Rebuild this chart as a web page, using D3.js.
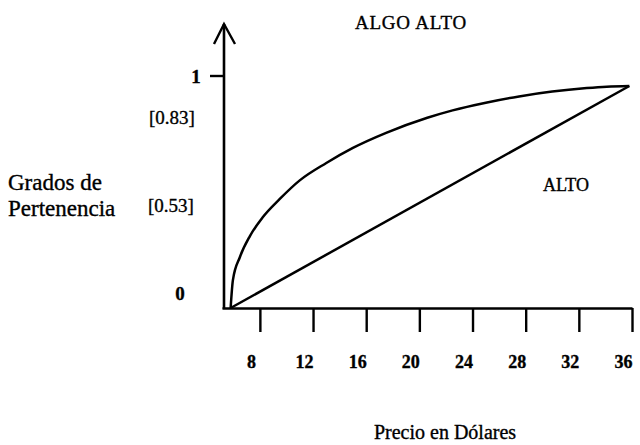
<!DOCTYPE html>
<html>
<head>
<meta charset="utf-8">
<script src="https://cdn.jsdelivr.net/npm/d3@7"></script>
<style>
  html, body { margin: 0; padding: 0; background: #fff; }
  svg text { font-family: "Liberation Serif", "Times New Roman", "DejaVu Serif", serif; }
</style>
</head>
<body>
<svg id="chart" width="640" height="445"></svg>
<script>
// ---- data ----
const xTicks = [8, 12, 16, 20, 24, 28, 32, 36];
const yTickLabels = ["1", "[0.83]", "[0.53]", "0"];
const yLabelAt = [1, 0.823, 0.444, 0.065];

const priceAlgoAlto = [5.8, 5.97, 6.5, 7.25, 8.2, 9.5, 11, 13, 15, 17.5, 20.6, 22.5, 25, 27.5, 30, 32.6, 34.1, 35.8];
const algoAlto     = [0, 0.12, 0.22, 0.31, 0.39, 0.47, 0.55, 0.625, 0.69, 0.755, 0.82, 0.852, 0.885, 0.912, 0.933, 0.948, 0.954, 0.957];

const priceAlto = [5.8, 35.8];
const alto      = [0, 0.957];

const seriesLabels = ["ALGO ALTO", "ALTO"];
const xTitle = "Precio en Dólares";
const yTitle = ["Grados de", "Pertenencia"];

const FONT = "'Liberation Serif', 'Times New Roman', 'DejaVu Serif', serif";

// ---- layout ----
const svg = d3.select("#chart");
const x = d3.scaleLinear().domain([5.15, 36]).range([222, 632]);
const y = d3.scaleLinear().domain([0, 1]).range([308, 76]);

function txt(sel) {
  return sel.attr("font-family", FONT).attr("fill", "#000")
    .attr("stroke", "#000").attr("stroke-width", 0.35);
}

// x axis
const xAxis = d3.axisBottom(x).tickValues(xTicks).tickSize(24).tickSizeOuter(0).tickFormat(d3.format("d"));
const gx = svg.append("g").attr("transform", `translate(0,${y(0)})`).call(xAxis)
  .attr("font-family", FONT);
gx.select(".domain").attr("stroke", "#000").attr("stroke-width", 2.6);
gx.selectAll(".tick line").attr("stroke", "#000").attr("stroke-width", 2.4);
gx.selectAll(".tick text")
  .call(txt)
  .attr("font-size", 18).attr("font-weight", "bold")
  .attr("dx", -9).attr("y", 47);

// y axis line with arrow
const yTop = 24;
const ax = x(5.15) + 2;
svg.append("line").attr("x1", ax).attr("x2", ax)
  .attr("y1", y(0) + 1).attr("y2", yTop)
  .attr("stroke", "#000").attr("stroke-width", 2.6);
svg.append("path")
  .attr("d", `M${ax - 10},${yTop + 20} L${ax},${yTop} L${ax + 11},${yTop + 20}`)
  .attr("fill", "none").attr("stroke", "#000").attr("stroke-width", 2.4);

// y tick at 1
svg.append("line").attr("x1", ax - 14).attr("x2", ax)
  .attr("y1", y(1)).attr("y2", y(1)).attr("stroke", "#000").attr("stroke-width", 2.4);

// y tick labels
const yLabX = [196, 172, 171, 180];
svg.selectAll("text.ylab").data(yTickLabels).enter().append("text")
  .attr("class", "ylab")
  .attr("x", (d, i) => yLabX[i])
  .attr("y", (d, i) => y(yLabelAt[i]))
  .attr("dy", "0.35em")
  .attr("text-anchor", "middle")
  .call(txt)
  .attr("font-size", 19).attr("font-weight", (d, i) => i === 0 || i === 3 ? "bold" : "normal")
  .text(d => d);

// curves
const line = d3.line().x(d => x(d[0])).y(d => y(d[1])).curve(d3.curveMonotoneX);
svg.append("path")
  .datum(d3.zip(priceAlgoAlto, algoAlto))
  .attr("d", line).attr("fill", "none").attr("stroke", "#000").attr("stroke-width", 2.5);
svg.append("path")
  .datum(d3.zip(priceAlto, alto))
  .attr("d", d3.line().x(d => x(d[0])).y(d => y(d[1])))
  .attr("fill", "none").attr("stroke", "#000").attr("stroke-width", 2.5);

// series labels
svg.append("text").attr("x", 411).attr("y", 22).attr("dy", "0.35em")
  .attr("text-anchor", "middle").call(txt).attr("font-size", 19)
  .attr("letter-spacing", 0.8).text(seriesLabels[0]);
svg.append("text").attr("x", 566).attr("y", 185).attr("dy", "0.35em")
  .attr("text-anchor", "middle").call(txt).attr("font-size", 18).text(seriesLabels[1]);

// axis titles
svg.append("text").attr("x", 8).attr("y", 182).attr("dy", "0.35em")
  .call(txt).attr("font-size", 23).text(yTitle[0]);
svg.append("text").attr("x", 8).attr("y", 208).attr("dy", "0.35em")
  .call(txt).attr("font-size", 23).text(yTitle[1]);
svg.append("text").attr("x", 445).attr("y", 432).attr("dy", "0.35em")
  .attr("text-anchor", "middle").call(txt).attr("font-size", 20).text(xTitle);
</script>
</body>
</html>
